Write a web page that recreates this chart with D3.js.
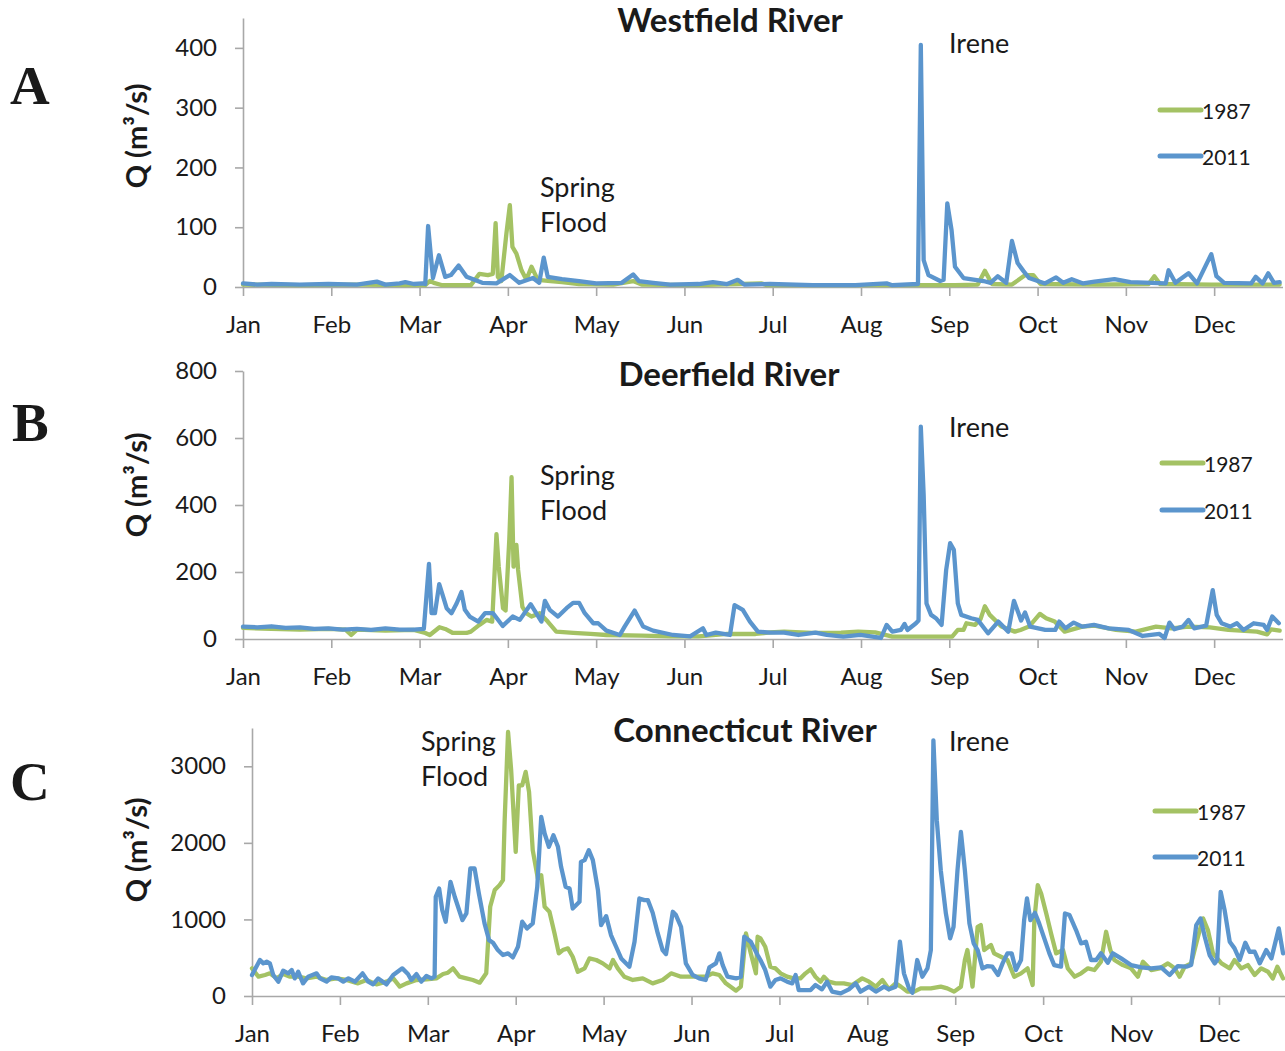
<!DOCTYPE html>
<html><head><meta charset="utf-8">
<script src="https://cdn.jsdelivr.net/npm/d3@7/dist/d3.min.js"></script>
<style>
body{margin:0;background:#fff;}
svg text{font-family:Lato,"Open Sans",sans-serif;fill:#1a1a1a;}
</style>
</head><body>
<svg id="chart" width="1285" height="1051"></svg>
<script>
// ---------- data ----------
const months = ["Jan","Feb","Mar","Apr","May","Jun","Jul","Aug","Sep","Oct","Nov","Dec"];
const monthTickDays = [0,31,62,93,124,155,186,217,248,279,310,341];
const seriesNames = ["1987","2011"];

const westfieldTicks = [0,100,200,300,400];
const deerfieldTicks = [0,200,400,600,800];
const connecticutTicks = [0,1000,2000,3000];

// [day of year, Q (m3/s)]
const westfield1987 = [[0,4],[20,3],[40,4],[60,3],[64,3],[65.6,10],[67,7],[70,3],[80,3],[83,22],[86,20],[87.7,22],[88.7,107],[89.5,17],[90.7,10],[92.5,90],[93.7,137],[94.6,67],[96,56],[97.8,28],[99.5,12],[101.3,34],[103.5,12],[108,10],[112,8],[118,5],[130,4],[137,10],[140,4],[160,3],[182,6],[184,3],[220,3],[250,3],[258,4],[260.5,27],[263,5],[270,4],[274.7,20],[277.5,20],[280,5],[300,4],[318,5],[320,18],[322,5],[340,4],[364,4]];
const westfield2011 = [[0,6],[5,4],[10,5],[20,4],[30,5],[40,4],[47,9],[50,4],[55,6],[57,8],[60,5],[63,6],[64,5],[65,102],[66.7,15],[68.8,53],[71,17],[73,20],[75.7,36],[78.5,17],[84,7],[89,6],[93.7,20],[97,7],[101.8,15],[104,7],[105.6,49],[107,17],[112,13],[118,10],[124,6],[133,7],[137,21],[139,10],[144,7],[150,4],[160,5],[165,8],[170,5],[173.7,12],[176,4],[185,5],[200,3],[215,3],[226,6],[228,3],[237,5],[238,405],[239,45],[240.7,20],[244.8,10],[246,12],[247.3,140],[248.8,95],[250,34],[253,15],[260,10],[262.5,7],[265,18],[268,7],[270,77],[272,40],[274,27],[276,15],[281.6,6],[285.5,16],[288,7],[291,13],[295,6],[299,9],[306,13],[311.6,8],[324,6],[325,28],[327.4,7],[332,23],[335,6],[340,55],[341.8,18],[344.5,7],[354,6],[355.6,17],[358,6],[360,23],[362,7],[364,8]];

const deerfield1987 = [[0,33],[10,30],[20,28],[30,30],[36,28],[38,12],[40,28],[50,25],[60,27],[64,18],[65.6,12],[69,35],[71,30],[73.7,18],[78.5,18],[80,22],[83,42],[85.5,57],[87.5,52],[89,313],[89.8,216],[91.3,92],[92.2,85],[93.5,296],[94.3,483],[95,216],[96,281],[96.6,206],[98.1,96],[99.5,77],[101.3,67],[104.2,77],[107,52],[110,22],[116,18],[122,15],[127.6,12],[140,10],[150,8],[160,8],[170,15],[180,15],[185,20],[190,22],[200,18],[210,19],[216,22],[222,20],[228,7],[240,7],[249,7],[251,27],[253,27],[254,47],[257,42],[259,60],[260.5,98],[262.2,72],[264,57],[266.3,37],[271,22],[273,27],[276,37],[279.8,75],[282,62],[285,52],[288.5,22],[294.7,37],[299,40],[306.5,27],[313.5,22],[320.6,37],[326,32],[332,37],[339.5,35],[346,27],[356,22],[359.6,14],[361,29],[364,25]];
const deerfield2011 = [[0,37],[5,35],[10,38],[15,33],[20,35],[25,30],[30,32],[35,28],[40,30],[45,27],[50,32],[55,28],[60,28],[63.5,30],[65.3,224],[66.2,77],[67.4,77],[68.9,164],[70.3,126],[71.5,92],[73.2,77],[75,106],[76.7,140],[77.9,87],[79.6,67],[82.6,52],[85,77],[87.8,77],[91.2,39],[94.7,67],[97.2,57],[101,104],[104.8,52],[106,114],[107.7,87],[110.6,67],[113.6,92],[115.9,108],[118,108],[120,77],[123,47],[124.7,47],[127.6,25],[132.3,12],[134,37],[137.5,85],[140.5,37],[144,25],[151,12],[157,8],[161.5,32],[162.7,12],[166,19],[171,12],[172.6,101],[175.5,87],[178,52],[180.8,22],[185,19],[190,19],[195,12],[201,19],[205,12],[210.8,7],[216.8,12],[224,3],[226,42],[228,22],[231,27],[232.3,45],[233.3,27],[236.3,47],[237.2,55],[238,634],[239,430],[240,106],[241.6,72],[243.3,62],[245.3,42],[246.9,206],[248.3,286],[249.6,266],[251,106],[252.2,72],[255.7,62],[258,57],[261.6,17],[265.2,52],[268.7,22],[270.7,114],[272.3,77],[273.2,55],[274.6,79],[276.4,37],[281.7,27],[285.2,27],[286.6,52],[288.8,32],[291.7,49],[294.7,37],[298.8,42],[304,32],[311,27],[315.9,9],[321.8,15],[323.6,3],[325.3,49],[327,29],[330,37],[332,57],[334,32],[338.2,40],[340.5,146],[341.9,72],[343.6,47],[346.6,37],[349,47],[351.3,27],[354.9,47],[358.4,42],[359.6,27],[361.4,67],[363.7,47]];

const connecticut1987 = [[0,361],[2.3,252],[4.6,274],[6.3,296],[8.7,230],[11,287],[13.4,252],[16.3,252],[19.2,230],[22.8,252],[26.3,209],[29.8,230],[33.3,209],[37.4,165],[40.4,209],[43.9,152],[47.4,187],[49.8,230],[52.1,122],[54.5,165],[58,209],[61.5,217],[65,230],[67.4,287],[69.1,304],[70.9,361],[73.2,252],[75.6,230],[77.9,209],[80.3,174],[82.6,296],[84,1165],[85.6,1383],[87.3,1448],[88.5,1513],[89.1,2296],[90.3,3448],[91.4,2948],[93,1883],[94.1,2752],[95.3,2752],[96.5,2926],[97.7,2665],[99,1904],[100.8,1535],[102,1578],[103.2,1165],[104.9,1100],[106.7,817],[108.2,557],[109.6,600],[111.4,622],[113.1,513],[114.9,317],[117.3,361],[119,491],[121.4,470],[123.7,426],[126.1,361],[127.3,470],[129,361],[131.3,252],[134.3,209],[137.8,230],[141.3,165],[144.8,209],[147.8,296],[151.3,252],[155.4,252],[160,252],[162.4,296],[164.8,274],[167.1,165],[170.7,70],[172.4,122],[174.2,817],[175.9,557],[177.7,296],[178.3,774],[179.3,752],[181,643],[182.8,383],[184.6,361],[186.4,296],[188.7,252],[191,230],[193.4,230],[195.2,296],[197,348],[198.7,252],[200.5,187],[201.7,252],[203.4,187],[205.8,165],[208.7,165],[211.7,143],[215.2,230],[217.6,187],[220,122],[222.3,209],[224.6,87],[227,165],[228.8,122],[231.1,57],[233.5,57],[235.8,100],[239.4,100],[242.9,122],[245.2,100],[247.6,57],[250,122],[251.4,470],[252.3,600],[254.1,122],[255.9,904],[257,926],[258.2,600],[260.6,665],[261.7,557],[264.1,513],[266.4,470],[268.8,252],[271.2,296],[273.5,361],[275.3,143],[275.9,991],[277.1,1448],[278.3,1339],[280.1,1078],[281.8,817],[283.6,557],[286,600],[287.7,361],[290.1,252],[292.4,296],[294.8,361],[297.1,339],[299.4,448],[301.2,839],[302.7,600],[304.1,470],[307.1,404],[310,361],[312.4,252],[314.2,448],[317.1,339],[320.1,361],[323,426],[325.4,361],[327.1,252],[328.9,383],[331.2,426],[333.6,774],[335.4,1013],[337.1,861],[338.9,557],[341.9,426],[344.8,361],[346.5,470],[348.9,361],[351.2,404],[353.6,274],[355.9,361],[358.3,317],[360,230],[361.6,383],[363.6,230]];
const connecticut2011 = [[0,274],[2.8,470],[4,426],[5.2,448],[6.3,426],[7.5,274],[9.3,187],[11,330],[12.8,296],[14,339],[15.1,230],[16.3,317],[18,165],[19.8,252],[22.8,296],[24,230],[26.3,187],[28,243],[30.4,230],[32.2,187],[34,230],[36.3,187],[39,296],[41,187],[42.7,152],[44.5,230],[47.4,152],[49.8,274],[53,361],[55,287],[56.2,209],[58,287],[59.7,187],[61.5,261],[63.3,230],[64.4,252],[64.8,1296],[66,1404],[67.1,1122],[68.3,970],[70,1491],[71.5,1296],[74.2,991],[75.6,1078],[77,1665],[78.5,1665],[80,1339],[82,948],[83.6,730],[85,696],[86.7,600],[88.5,535],[90.3,557],[92,504],[93.8,643],[95.3,970],[97,883],[99,948],[100.6,1426],[102,2339],[103.2,2122],[104.7,1948],[106.3,2100],[107.9,1948],[109,1687],[110.6,1426],[112,1404],[113.1,1143],[115.5,1230],[116,1752],[117.3,1774],[118.8,1904],[120.2,1774],[122,1383],[123.1,926],[124.9,1043],[126.6,796],[128.4,643],[130.2,491],[133.1,383],[134.9,709],[136.6,1274],[138.4,1252],[139.6,1252],[141.3,1087],[143.1,817],[144.8,600],[146,548],[147.2,817],[148.4,1100],[149.5,1057],[151.3,904],[153,426],[155.4,274],[157.7,230],[160,209],[161.3,374],[163.6,426],[164.8,557],[166,404],[167.7,252],[170.7,230],[172.4,252],[173.6,774],[175.9,709],[178.3,535],[179.3,470],[181,339],[182.8,122],[184.6,209],[186.4,230],[188.7,187],[190.5,165],[191.7,274],[192.8,78],[197,78],[198.7,143],[201,87],[202.8,187],[204.6,57],[207.6,35],[210.5,87],[212.9,165],[214.6,57],[217.6,122],[220,57],[222.9,122],[224.6,87],[227,122],[228.5,709],[229.9,296],[231.7,100],[232.9,43],[234.6,470],[236.4,252],[238.2,361],[239.4,600],[240.3,3339],[241.5,2296],[242.9,1643],[244.7,1078],[246.2,752],[247.4,904],[248.8,1643],[250,2143],[251.4,1643],[253,948],[254.5,687],[255.9,600],[257.6,361],[259.4,391],[261.1,383],[263.1,274],[264.7,426],[266.4,557],[267.9,557],[269.4,339],[271.2,470],[272.3,991],[273.3,1274],[274.5,991],[276.1,1087],[277.6,948],[279.4,752],[281.2,557],[282.9,404],[285.3,383],[286.7,1078],[288.3,1057],[290.6,861],[292.4,687],[294.1,709],[295.9,470],[297.7,470],[299.4,557],[301.8,435],[303.6,557],[306.5,491],[310,404],[313.6,374],[317.1,361],[320.6,374],[323.6,274],[326.5,391],[329.5,383],[331.2,404],[333,926],[334.5,1013],[336,774],[337.7,535],[339.5,426],[340.4,470],[341.6,1361],[343,1122],[344.8,709],[346.5,622],[348.3,470],[350.3,696],[351.8,578],[353.6,578],[355.4,426],[357.7,600],[359.5,491],[362.1,883],[363.6,557]];

// ---------- layout ----------
const colors = {"1987":"#a4c264","2011":"#5b95cd"};
const panels = [
  {letter:"A", title:"Westfield River", ticks:westfieldTicks, yMax:450, s1987:westfield1987, s2011:westfield2011,
   x0:243, x1:1282.5, yBot:287, yTop:18, titleX:730, titleY:32, letterY:104, letterX:10, qY:136,
   ireneX:949, ireneY:53, springX:540, springY:197, legX:1160, legY1:110, legY2:156},
  {letter:"B", title:"Deerfield River", ticks:deerfieldTicks, yMax:800, s1987:deerfield1987, s2011:deerfield2011,
   x0:243, x1:1282.5, yBot:639, yTop:371, titleX:729, titleY:386, letterY:441, letterX:12, qY:485,
   ireneX:949, ireneY:437, springX:540, springY:485, legX:1162, legY1:463, legY2:510},
  {letter:"C", title:"Connecticut River", ticks:connecticutTicks, yMax:3500, s1987:connecticut1987, s2011:connecticut2011,
   x0:252, x1:1287, yBot:996, yTop:728, titleX:745, titleY:742, letterY:800, letterX:10, qY:850,
   ireneX:949, ireneY:751, springX:421, springY:751, legX:1155, legY1:811, legY2:857}
];

const svg = d3.select("#chart");
svg.append("rect").attr("width",1285).attr("height",1051).attr("fill","#fff");
const axisColor = "#a8a8a8";

panels.forEach(p => {
  const x = d3.scaleLinear().domain([0,365]).range([p.x0,p.x1]);
  const y = d3.scaleLinear().domain([0,p.yMax]).range([p.yBot,p.yTop]);
  const g = svg.append("g");

  // x axis
  const xa = g.append("g").attr("transform",`translate(0,${p.yBot})`)
    .call(d3.axisBottom(x).tickValues(monthTickDays).tickFormat((d,i)=>months[i]).tickSize(9).tickSizeOuter(0));
  xa.select(".domain").attr("stroke",axisColor).attr("stroke-width",1.6);
  xa.selectAll(".tick line").attr("stroke",axisColor).attr("stroke-width",1.6);
  xa.selectAll(".tick text").attr("y",46).attr("dy",null).attr("font-size",24).attr("fill","#1a1a1a")
    .style("font-family","Lato");

  // y axis
  const ya = g.append("g").attr("transform",`translate(${p.x0},0)`)
    .call(d3.axisLeft(y).tickValues(p.ticks).tickFormat(d3.format("d")).tickSize(8).tickSizeOuter(0).tickPadding(18));
  ya.select(".domain").attr("stroke",axisColor).attr("stroke-width",1.6);
  ya.selectAll(".tick line").attr("stroke",axisColor).attr("stroke-width",1.6);
  ya.selectAll(".tick text").attr("font-size",24).attr("fill","#1a1a1a").style("font-family","Lato");

  // lines
  const line = d3.line().x(d=>x(d[0])).y(d=>y(d[1]));
  [["1987",p.s1987],["2011",p.s2011]].forEach(([name,data]) => {
    g.append("path").datum(data).attr("d",line).attr("fill","none")
      .attr("stroke",colors[name]).attr("stroke-width",4.3)
      .attr("stroke-linejoin","round").attr("stroke-linecap","round");
  });

  // titles & labels
  g.append("text").attr("x",p.titleX).attr("y",p.titleY).attr("text-anchor","middle")
    .attr("font-weight","bold").attr("font-size",33).text(p.title);
  g.append("text").attr("x",p.letterX).attr("y",p.letterY)
    .style("font-family","'Liberation Serif','Times New Roman',serif").attr("font-weight","bold")
    .attr("font-size",55).attr("fill","#000").text(p.letter);
  g.append("text").attr("transform",`translate(147,${p.qY}) rotate(-90)`).attr("text-anchor","middle")
    .attr("font-weight","bold").attr("font-size",29).text("Q (m³/s)");
  g.append("text").attr("x",p.ireneX).attr("y",p.ireneY).attr("font-size",27).text("Irene");
  g.append("text").attr("x",p.springX).attr("y",p.springY).attr("font-size",27).text("Spring");
  g.append("text").attr("x",p.springX).attr("y",p.springY+35).attr("font-size",27).text("Flood");

  // legend
  [[seriesNames[0],p.legY1],[seriesNames[1],p.legY2]].forEach(([name,ly]) => {
    g.append("line").attr("x1",p.legX).attr("x2",p.legX+41).attr("y1",ly).attr("y2",ly)
      .attr("stroke",colors[name]).attr("stroke-width",5).attr("stroke-linecap","round");
    g.append("text").attr("x",p.legX+42).attr("y",ly+9).attr("font-size",21).text(name);
  });
});
</script>
</body></html>
